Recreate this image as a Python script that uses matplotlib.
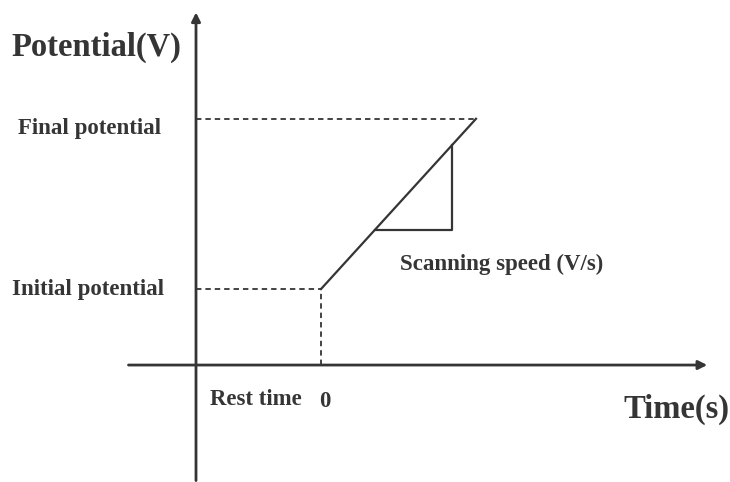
import matplotlib
matplotlib.use("Agg")
import matplotlib.pyplot as plt

# Schematic values (arbitrary units; origin where the axes cross)
t_rest = 1.0          # end of rest time, start of the sweep
t_end = 2.24          # end of the sweep
E_initial = 1.0       # initial potential
E_final = 3.24        # final potential
slope_t = [1.43, 2.05]  # where the scan-speed triangle touches the ramp

labels = {
    "ylabel": "Potential(V)",
    "xlabel": "Time(s)",
    "final": "Final potential",
    "initial": "Initial potential",
    "rest": "Rest time",
    "zero": "0",
    "speed": "Scanning speed (V/s)",
}

ink = "#353535"
fam = ["Liberation Serif", "DejaVu Serif"]
big = 23.5
small = 16.5

fig = plt.figure(figsize=(7.30, 4.82), dpi=100)
ax = fig.add_axes([0, 0, 1, 1])
ax.set_xlim(-1.568, 4.272)
ax.set_ylim(-1.539, 4.803)
ax.axis("off")

def E_at(t):
    return E_initial + (E_final - E_initial) * (t - t_rest) / (t_end - t_rest)

# axes with arrows
ax.annotate("", xy=(4.09, 0), xytext=(-0.54, 0),
            arrowprops=dict(arrowstyle="-|>", lw=2.0, color=ink, mutation_scale=13,
                            shrinkA=0, shrinkB=0))
ax.annotate("", xy=(0, 4.64), xytext=(0, -1.52),
            arrowprops=dict(arrowstyle="-|>", lw=2.0, color=ink, mutation_scale=13,
                            shrinkA=0, shrinkB=0))

# dashed guides
dash = (0, (3, 2.2))
ax.plot([0, t_rest], [E_initial, E_initial], color=ink, lw=1.3, linestyle=dash)
ax.plot([t_rest, t_rest], [0, E_initial], color=ink, lw=1.3, linestyle=dash)
ax.plot([0, t_end], [E_final, E_final], color=ink, lw=1.3, linestyle=dash)

# ramp
ax.plot([t_rest, t_end], [E_initial, E_final], color=ink, lw=1.6)

# slope triangle
t0, t1 = slope_t
ax.plot([t0, t1, t1], [E_at(t0), E_at(t0), E_at(t1)], color=ink, lw=1.6)

# text
ax.text(-1.48, 4.18, labels["ylabel"], fontsize=big, fontweight="bold", family=fam,
        color=ink, ha="left", va="center")
ax.text(-1.425, E_final - 0.13, labels["final"], fontsize=small, fontweight="bold", family=fam,
        color=ink, ha="left", va="center")
ax.text(-1.47, E_initial + 0.0, labels["initial"], fontsize=small, fontweight="bold", family=fam,
        color=ink, ha="left", va="center")
ax.text(0.11, -0.45, labels["rest"], fontsize=small, fontweight="bold", family=fam,
        color=ink, ha="left", va="center")
ax.text(1.03, -0.48, labels["zero"], fontsize=small, fontweight="bold", family=fam,
        color=ink, ha="center", va="center")
ax.text(1.63, 1.32, labels["speed"], fontsize=small, fontweight="bold", family=fam,
        color=ink, ha="left", va="center")
ax.text(3.42, -0.58, labels["xlabel"], fontsize=big, fontweight="bold", family=fam,
        color=ink, ha="left", va="center")

fig.savefig("out.png", dpi=100, facecolor="white")
